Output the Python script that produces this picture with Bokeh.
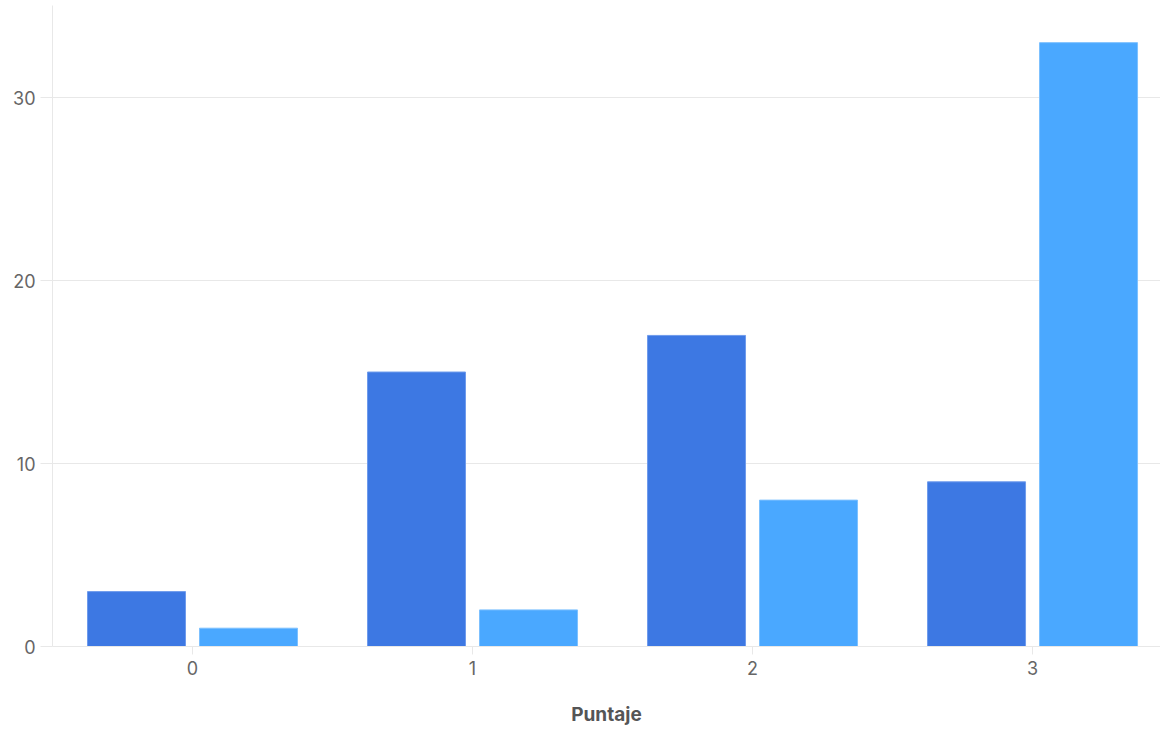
from bokeh.plotting import figure
from bokeh.models import Range1d, FixedTicker, ColumnDataSource
from bokeh.embed import file_html
from bokeh.resources import INLINE

categories = [0, 1, 2, 3]
series_a = [3, 15, 17, 9]
series_b = [1, 2, 8, 33]
y_ticks = [0, 10, 20, 30]

FONT = "Inter"
GRID = "#e8e8e8"

p = figure(width=1160, height=728, output_backend="svg", toolbar_location=None,
           x_range=Range1d(-0.5, 3.457), y_range=Range1d(0, 35.03),
           min_border_left=52, min_border_top=5, min_border_right=0, min_border_bottom=10)
p.outline_line_color = None

src = ColumnDataSource(dict(
    xa=[c - 0.2 for c in categories], xb=[c + 0.2 for c in categories],
    a=series_a, b=series_b))
p.vbar(x="xa", top="a", bottom=0, width=0.35, source=src,
       fill_color="#3d78e3", line_color="#6f9bec", line_width=1)
p.vbar(x="xb", top="b", bottom=0, width=0.35, source=src,
       fill_color="#4aa8ff", line_color="#7cc0ff", line_width=1)

p.xgrid.grid_line_color = None
p.ygrid.grid_line_color = GRID
p.ygrid.ticker = FixedTicker(ticks=y_ticks)

p.yaxis.ticker = FixedTicker(ticks=y_ticks)
p.yaxis.axis_line_color = GRID
p.yaxis.major_tick_line_color = GRID
p.yaxis.major_tick_out = 12
p.yaxis.major_tick_in = 0
p.yaxis.minor_tick_line_color = None
p.yaxis.major_label_standoff = 5
p.yaxis.major_label_text_font = FONT
p.yaxis.major_label_text_font_size = "18px"
p.yaxis.major_label_text_color = "#666666"

p.xaxis.ticker = FixedTicker(ticks=categories)
p.xaxis.axis_line_color = GRID
p.xaxis.major_tick_line_color = GRID
p.xaxis.major_tick_out = 8
p.xaxis.major_tick_in = 0
p.xaxis.minor_tick_line_color = None
p.xaxis.major_label_standoff = 6
p.xaxis.major_label_text_font = FONT
p.xaxis.major_label_text_font_size = "18px"
p.xaxis.major_label_text_color = "#666666"
p.xaxis.axis_label = "Puntaje"
p.xaxis.axis_label_text_font = FONT
p.xaxis.axis_label_text_font_size = "19px"
p.xaxis.axis_label_text_font_style = "bold"
p.xaxis.axis_label_text_color = "#555555"
p.xaxis.axis_label_standoff = 25

open("out.html", "w").write(file_html(p, INLINE))
